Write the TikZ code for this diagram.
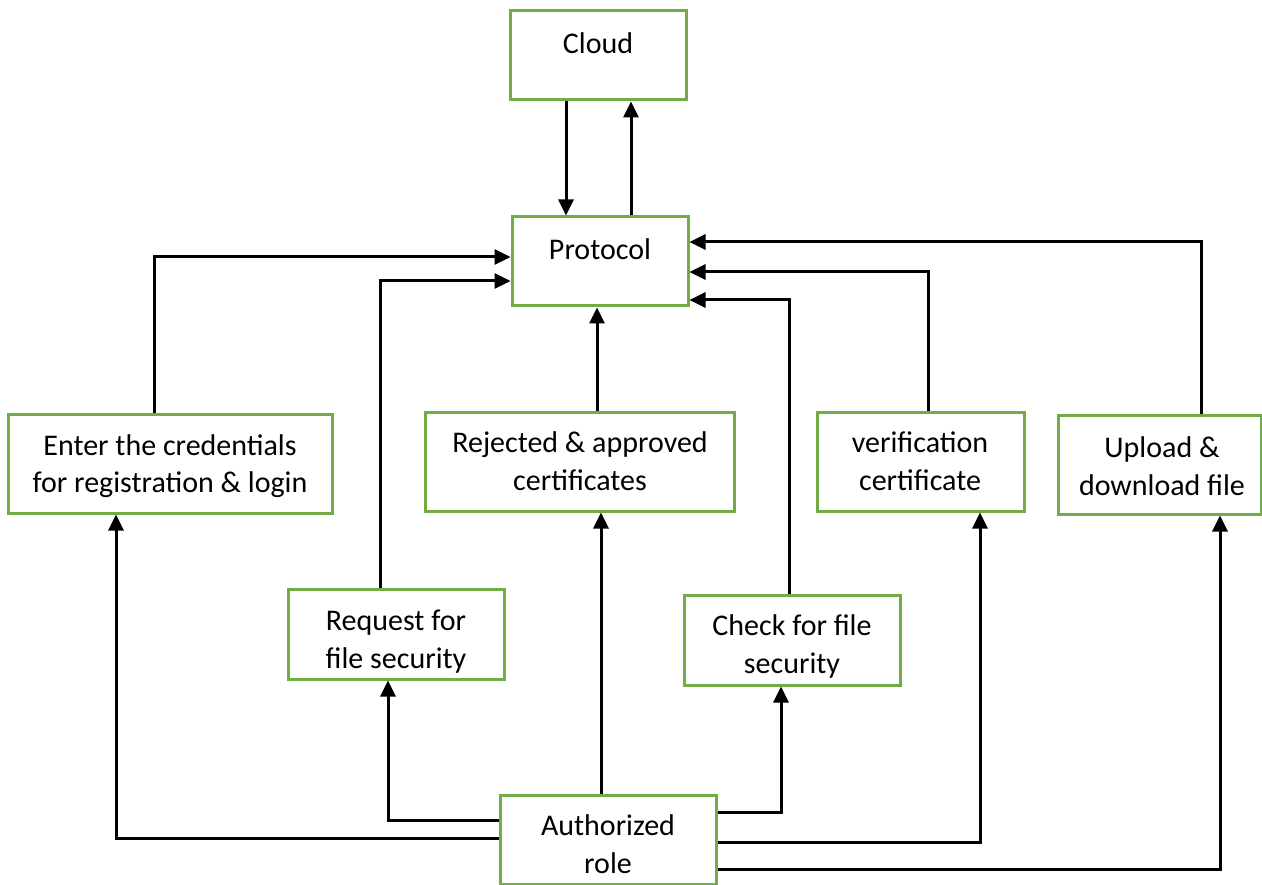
\documentclass[tikz,border=0pt]{standalone}
\usepackage{fontspec}
\setmainfont{Carlito}
\usetikzlibrary{arrows.meta}
\definecolor{boxgreen}{RGB}{112,173,71}
\tikzset{
  box/.style={draw=boxgreen, line width=3pt, fill=white, inner sep=0pt},
  txt/.style={anchor=base, align=center, inner sep=0pt,
    font=\fontsize{30pt}{38pt}\selectfont},
  arr/.style={draw=black, line width=3pt,
    -{Triangle[length=16pt,width=15pt]}},
}
\begin{document}
\begin{tikzpicture}[x=1pt,y=-1pt]
\useasboundingbox[fill=white] (0,0) rectangle (1262,885);

% boxes
\node[box, minimum width=176pt, minimum height=89pt] (cloud)    at (598,55.5) {};
\node[box, minimum width=176pt, minimum height=89pt] (protocol) at (600,261.5) {};
\node[box, minimum width=324pt, minimum height=98pt] (enter)    at (170,464) {};
\node[box, minimum width=309pt, minimum height=98pt] (rejected) at (579.5,462) {};
\node[box, minimum width=207pt, minimum height=98pt] (verif)    at (920.5,462) {};
\node[box, minimum width=203pt, minimum height=98pt] (upload)   at (1159.5,465) {};
\node[box, minimum width=216pt, minimum height=90pt] (request)  at (396,634) {};
\node[box, minimum width=216pt, minimum height=90pt] (check)    at (792,640) {};
\node[box, minimum width=216pt, minimum height=89pt] (auth)     at (608,839.5) {};

% labels (anchored at the baseline of the last line)
\node[txt] (cloud-t)    at (598,54)   {Cloud};
\node[txt] (protocol-t) at (600,260)  {Protocol};
\node[txt] (enter-t)    at (170,493)  {Enter the credentials\\for registration \& login};
\node[txt] (rejected-t) at (580,490)  {Rejected \& approved\\certificates};
\node[txt] (verif-t)    at (920,490)  {verification\\certificate};
\node[txt] (upload-t)   at (1162,495) {Upload \&\\download file};
\node[txt] (request-t)  at (396,668)  {Request for\\file security};
\node[txt] (check-t)    at (792,673)  {Check for file\\security};
\node[txt] (auth-t)     at (608,873)  {Authorized\\role};

% cloud <-> protocol
\draw[arr] ([xshift=-32pt]cloud.south) coordinate (c1) -- (c1 |- protocol.north);
\draw[arr] ([xshift=31pt]protocol.north) coordinate (c2) -- (c2 |- cloud.south);

% into protocol
\draw[arr] ([xshift=-16pt]enter.north) |- ([yshift=4.5pt]protocol.west);
\draw[arr] ([xshift=-16pt]request.north) |- ([yshift=-19.5pt]protocol.west);
\draw[arr] ([xshift=17.5pt]rejected.north) coordinate (c3) -- (c3 |- protocol.south);
\draw[arr] ([xshift=-3pt]check.north) |- ([yshift=-38.5pt]protocol.east);
\draw[arr] ([xshift=7.5pt]verif.north) |- ([yshift=-10.5pt]protocol.east);
\draw[arr] ([xshift=41.5pt]upload.north) |- ([yshift=19.5pt]protocol.east);

% out of authorized role
\draw[arr] ([xshift=-7pt]auth.north) coordinate (c4) -- (c4 |- rejected.south);
\draw[arr] ([yshift=19.5pt]auth.west) -| ([xshift=-8pt]request.south);
\draw[arr] ([yshift=1.5pt]auth.west) -| ([xshift=-54pt]enter.south);
\draw[arr] ([yshift=27.5pt]auth.east) -| ([xshift=-11pt]check.south);
\draw[arr] ([yshift=-2.5pt]auth.east) -| ([xshift=59.5pt]verif.south);
\draw[arr] ([yshift=-29.5pt]auth.east) -| ([xshift=60.5pt]upload.south);
\end{tikzpicture}
\end{document}
